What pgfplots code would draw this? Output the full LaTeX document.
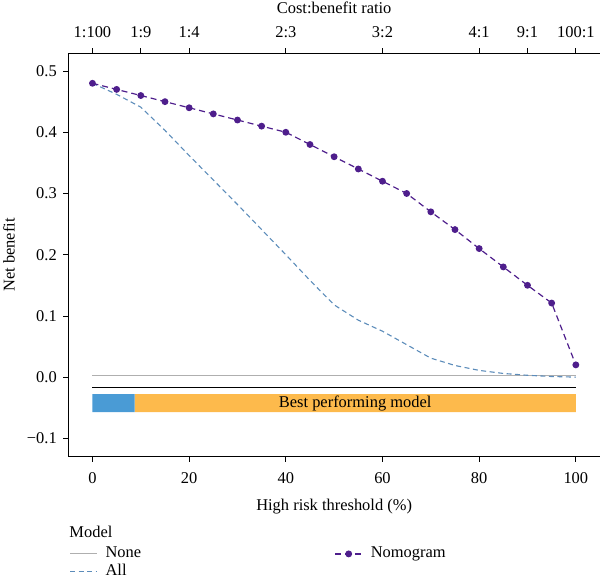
\documentclass[border=0pt]{standalone}
\usepackage{fontspec}
\setmainfont{Liberation Serif}
\usepackage{pgfplots}
\pgfplotsset{compat=1.18}

\definecolor{nomogram}{RGB}{78,30,140}
\definecolor{allc}{RGB}{92,140,186}
\definecolor{nonec}{RGB}{175,175,175}
\definecolor{barblue}{RGB}{74,155,213}
\definecolor{barorange}{RGB}{253,186,76}
\newcommand\cf{\fontsize{16.5}{19}\selectfont}

\pgfplotsset{
  dcabase/.style={
    at={(0,0)}, anchor=south west,
    scale only axis, width=531.7bp, height=403.4bp,
    xmin=-5, xmax=105, ymin=-0.130, ymax=0.529,
    tick align=outside, major tick length=5bp,
    every tick/.style={black, line width=0.8bp},
    /pgf/number format/assume math mode=true,
    tick label style={font=\cf},
    label style={font=\cf},
  }
}

\begin{document}
\begin{tikzpicture}
\useasboundingbox (-68.3bp,-124.3bp) rectangle (531.7bp,456.7bp);

% main axis: threshold probability against net benefit
\begin{axis}[dcabase,
  axis x line*=bottom, axis y line*=left,
  axis line style={black, line width=0.9bp, -},
  xtick={0,20,40,60,80,100},
  ytick={-0.1,0,0.1,0.2,0.3,0.4,0.5},
  yticklabels={−0.1,0.0,0.1,0.2,0.3,0.4,0.5},
  xticklabel style={yshift=-7bp},
  yticklabel style={xshift=-3bp},
  xlabel={High risk threshold (\%)},
  ylabel={Net benefit},
  xlabel style={at={(axis description cs:0.5,0)}, anchor=center, yshift=-50bp},
  ylabel style={at={(axis description cs:-0.1115,0.5)}, anchor=center},
  legend image code/.code={\draw[mark repeat=2,mark phase=2,#1] plot coordinates {(0bp,0bp)(13.5bp,0bp)(27bp,0bp)};},
  legend style={draw=none, fill=none, at={(axis description cs:0,0)}, anchor=north west,
    xshift=1bp, yshift=-88bp, legend columns=2, column sep=5bp, row sep=0bp, inner sep=0pt,
    nodes={font=\cf, inner xsep=3bp, inner ysep=1bp, text width=221bp, align=left,
      text height=12bp, text depth=4bp}},
  transpose legend,
  legend cell align=left,
  clip=false,
]
% best performing model strip
\addplot[forget plot, draw=none, fill=barorange] coordinates
  {(8.7,-0.0278) (100,-0.0278) (100,-0.0572) (8.7,-0.0572) (8.7,-0.0278)};
\addplot[forget plot, draw=none, fill=barblue] coordinates
  {(0,-0.0278) (8.7,-0.0278) (8.7,-0.0572) (0,-0.0572) (0,-0.0278)};
\addplot[forget plot, black, line width=0.9bp] coordinates {(0,-0.017) (100,-0.017)};
\node[font=\cf] at (axis cs:54.35,-0.0425) {Best performing model};

\addplot[nonec, line width=1.1bp] coordinates {(0,0.002) (100,0.002)};
\addlegendentry{None}

\addplot[allc, line width=1.1bp, dash pattern=on 5bp off 3.5bp] coordinates {
  (0,0.480) (5,0.462) (10,0.441) (15,0.403) (20,0.362) (25,0.322) (30,0.282)
  (35,0.241) (40,0.200) (45,0.158) (50,0.118) (55,0.093) (60,0.075) (65,0.053)
  (70,0.031) (75,0.019) (80,0.011) (85,0.006) (90,0.003) (95,0.001) (100,0.000)};
\addlegendentry{All}

\addplot[nomogram, line width=1.2bp, dash pattern=on 6bp off 4bp,
  mark=*, mark size=2.8bp, mark options={solid}] coordinates {
  (0,0.480) (5,0.470) (10,0.460) (15,0.450) (20,0.440) (25,0.430) (30,0.420)
  (35,0.410) (40,0.400) (45,0.380) (50,0.360) (55,0.340) (60,0.320) (65,0.300)
  (70,0.270) (75,0.241) (80,0.210) (85,0.180) (90,0.150) (95,0.121) (100,0.020)};
\addlegendentry{Nomogram}
\end{axis}

% upper axis: cost:benefit ratio
\begin{axis}[dcabase,
  axis x line*=top, axis y line=none,
  axis line style={black, line width=0.9bp, -},
  xtick pos=right, xticklabel pos=right,
  xtick={0,10,20,40,60,80,90,100},
  xticklabels={1:100,1:9,1:4,2:3,3:2,4:1,9:1,100:1},
  xticklabel style={yshift=7bp},
  xlabel={Cost:benefit ratio},
  xlabel style={at={(axis description cs:0.5,1)}, anchor=center, yshift=45bp},
]
\end{axis}

\node[font=\cf, anchor=west, inner sep=0pt] at (1bp,-75bp) {Model};
\end{tikzpicture}
\end{document}
